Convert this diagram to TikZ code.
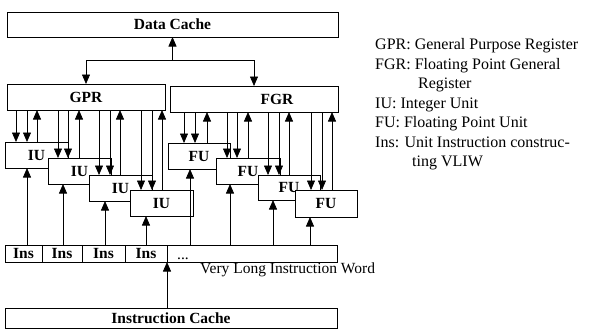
\documentclass[tikz,border=0pt]{standalone}
\usepackage{fontspec}
\setmainfont{Liberation Serif}
\usetikzlibrary{positioning, arrows.meta}

\begin{document}
\begin{tikzpicture}[
        x=1pt, y=-1pt,
        % Define styles for the VLIW block diagram
        block/.style={rectangle, draw, fill=white, line width=0.7pt, inner sep=0pt, outer sep=0pt, anchor=north west, font=\fontsize{15.5}{18}\selectfont\bfseries},
        unit/.style={block, minimum width=63pt, minimum height=26pt},
        cell/.style={block, minimum height=17pt},
        flow/.style={line width=0.7pt, -{Triangle[length=9.5pt, width=8pt]}},
        legend/.style={anchor=base west, inner sep=0pt, font=\fontsize{16}{19.5}\selectfont}
    ]
        \useasboundingbox (0,0) rectangle (590,333);

        % --------------------------------------------------------
        % Data cache and register files
        % --------------------------------------------------------
        \node[block, minimum width=331pt, minimum height=25pt] (dcache) at (7,12) {Data Cache};
        \node[block, minimum width=158pt, minimum height=26pt] (gpr) at (7,84) {GPR};
        \node[block, minimum width=168pt, minimum height=26pt] (fgr) at (170,86) {\hspace*{46pt}FGR};

        \coordinate (split) at (dcache.south |- 0,60);
        \draw[flow] (split) -- (dcache.south);
        \draw[flow] (split) -| (gpr.north);
        \draw[flow] (split) -| (fgr.north);

        % --------------------------------------------------------
        % Integer units and floating point units
        % --------------------------------------------------------
        \node[unit] (iu1) at (5,142) {IU};
        \node[unit] (iu2) at (48,158) {IU};
        \node[unit] (iu3) at (89,175) {IU};
        \node[unit] (iu4) at (130,190) {IU};

        \node[unit, minimum width=62pt] (fu1) at (168,143) {FU};
        \node[unit, minimum width=64pt] (fu2) at (216,158) {FU};
        \node[unit, minimum width=62pt, minimum height=25pt] (fu3) at (258,175) {FU};
        \node[unit, minimum width=62pt, minimum height=27pt] (fu4) at (295,190) {FU};

        % --------------------------------------------------------
        % VLIW word and instruction cache
        % --------------------------------------------------------
        \node[cell, minimum width=37pt] (ins1) at (5,245) {Ins};
        \node[cell, minimum width=40pt, right=0pt of ins1] (ins2) {Ins};
        \node[cell, minimum width=43pt, right=0pt of ins2] (ins3) {Ins};
        \node[cell, minimum width=42pt, right=0pt of ins3] (ins4) {Ins};
        \node[cell, minimum width=170pt, right=0pt of ins4] (rest) {};
        \node[anchor=base west, inner sep=0pt, font=\fontsize{15.5}{18}\selectfont] (dots) at (177,259) {...};
        \node[anchor=base west, inner sep=0pt, font=\fontsize{15.5}{18}\selectfont] (vliw) at (200,273) {Very Long Instruction Word};

        \node[block, minimum width=332pt, minimum height=20pt] (icache) at (5,308) {Instruction Cache};
        \draw[flow] (ins4.south east |- icache.north) -- (ins4.south east);

        % GPR <-> IU
        \draw[flow] (16,0 |- gpr.south) -- (16,0 |- iu1.north);
        \draw[flow] (27,0 |- gpr.south) -- (27,0 |- iu1.north);
        \draw[flow] (37,0 |- iu1.north) -- (37,0 |- gpr.south);
        \draw[flow] (58,0 |- gpr.south) -- (58,0 |- iu2.north);
        \draw[flow] (68,0 |- gpr.south) -- (68,0 |- iu2.north);
        \draw[flow] (79,0 |- iu2.north) -- (79,0 |- gpr.south);
        \draw[flow] (99,0 |- gpr.south) -- (99,0 |- iu3.north);
        \draw[flow] (110,0 |- gpr.south) -- (110,0 |- iu3.north);
        \draw[flow] (120,0 |- iu3.north) -- (120,0 |- gpr.south);
        \draw[flow] (141,0 |- gpr.south) -- (141,0 |- iu4.north);
        \draw[flow] (152,0 |- gpr.south) -- (152,0 |- iu4.north);
        \draw[flow] (162,0 |- iu4.north) -- (162,0 |- gpr.south);

        % FGR <-> FU
        \draw[flow] (184,0 |- fgr.south) -- (184,0 |- fu1.north);
        \draw[flow] (195,0 |- fgr.south) -- (195,0 |- fu1.north);
        \draw[flow] (207,0 |- fu1.north) -- (207,0 |- fgr.south);
        \draw[flow] (227,0 |- fgr.south) -- (227,0 |- fu2.north);
        \draw[flow] (237,0 |- fgr.south) -- (237,0 |- fu2.north);
        \draw[flow] (248,0 |- fu2.north) -- (248,0 |- fgr.south);
        \draw[flow] (268,0 |- fgr.south) -- (268,0 |- fu3.north);
        \draw[flow] (279,0 |- fgr.south) -- (279,0 |- fu3.north);
        \draw[flow] (289,0 |- fu3.north) -- (289,0 |- fgr.south);
        \draw[flow] (311,0 |- fgr.south) -- (311,0 |- fu4.north);
        \draw[flow] (322,0 |- fgr.south) -- (322,0 |- fu4.north);
        \draw[flow] (332,0 |- fu4.north) -- (332,0 |- fgr.south);

        % Ins -> units
        \draw[flow] (27,0 |- ins1.north) -- (27,0 |- iu1.south);
        \draw[flow] (63,0 |- ins2.north) -- (63,0 |- iu2.south);
        \draw[flow] (105,0 |- ins3.north) -- (105,0 |- iu3.south);
        \draw[flow] (146,0 |- ins4.north) -- (146,0 |- iu4.south);
        \draw[flow] (190,0 |- rest.north) -- (190,0 |- fu1.south);
        \draw[flow] (230,0 |- rest.north) -- (230,0 |- fu2.south);
        \draw[flow] (273,0 |- rest.north) -- (273,0 |- fu3.south);
        \draw[flow] (310,0 |- rest.north) -- (310,0 |- fu4.south);

        % --------------------------------------------------------
        % Legend
        % --------------------------------------------------------
        \node[legend] (lgpr) at (375,49.5) {GPR: General Purpose Register};
        \node[legend] (lfgr) at (375,69) {FGR: Floating Point General};
        \node[legend] (lfgr2) at (418,88.5) {Register};
        \node[legend] (liu) at (375,108) {IU: Integer Unit};
        \node[legend] (lfu) at (375,127.5) {FU: Floating Point Unit};
        \node[legend] (lins) at (375,147) {Ins: Unit Instruction construc-};
        \node[legend] (lins2) at (412,166.5) {ting VLIW};

    \end{tikzpicture}
\end{document}
